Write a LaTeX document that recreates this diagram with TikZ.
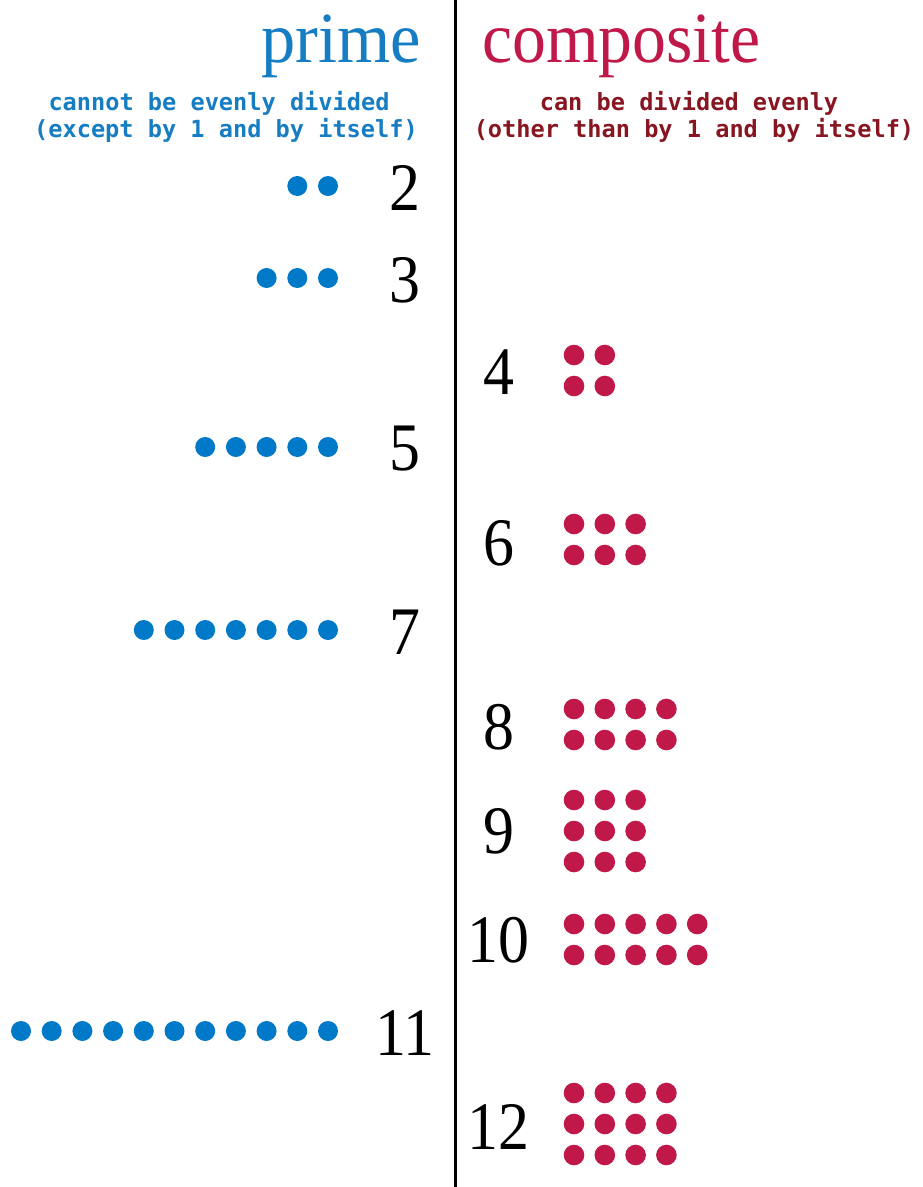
\documentclass[tikz,border=0pt]{standalone}
\usepackage{fontspec}
\usepackage{graphicx}
\setmainfont{Liberation Serif}
\newfontfamily\monofam{DejaVu Sans Mono}
\definecolor{pblue}{RGB}{0,122,200}
\definecolor{tblue}{RGB}{22,125,195}
\definecolor{cred}{RGB}{192,24,72}
\definecolor{tred}{RGB}{135,22,32}
\tikzset{
  num/.style={font=\fontsize{68}{68}\selectfont, inner sep=0pt, anchor=center},
  title/.style={font=\fontsize{72}{72}\selectfont, inner sep=0pt, anchor=base},
  sub/.style={font=\monofam\bfseries\fontsize{23.6}{24}\selectfont, inner sep=0pt, anchor=base},
  bdot/.style={fill=pblue},
  rdot/.style={fill=cred}
}
\begin{document}
\begin{tikzpicture}[x=1pt,y=-1pt]
\useasboundingbox (0,0) rectangle (922,1187);
\fill[white] (0,0) rectangle (922,1187);
\draw[line width=3pt] (455,0) -- (455,1187);
% titles
\node[title, anchor=base east, text=tblue] (tprime) at (421,62) {\scalebox{0.95}[1]{prime}};
\node[title, anchor=base west, text=cred] (tcomp) at (482,62) {\scalebox{0.94}[1]{composite}};
\node[sub, text=tblue] (s1) at (219,110) {cannot be evenly divided};
\node[sub, text=tblue] (s2) at (226,137) {(except by 1 and by itself)};
\node[sub, text=tred] (s3) at (689,110) {can be divided evenly};
\node[sub, text=tred] (s4) at (694,137) {(other than by 1 and by itself)};
% prime numbers
\foreach \n/\y in {2/188, 3/280, 5/449, 7/632, 11/1033}{
  \node[num] (p\n) at (405,\y) {\scalebox{0.91}[1]{\n}};
  \foreach \k in {1,...,\n}{
    \fill[bdot] ({328-30.7*(\k-1)},{\y-2}) circle (10);
  }
}
% composite numbers
\foreach \n/\y in {4/372, 6/543, 8/727, 9/831, 10/940, 12/1127}{
  \node[num] (c\n) at (498.5,\y) {\scalebox{0.91}[1]{\n}};
}
\foreach \c/\r/\y in {2/2/355, 3/2/524, 4/2/709, 3/3/800, 5/2/924, 4/3/1093}{
  \foreach \i in {1,...,\c}{
    \foreach \j in {1,...,\r}{
      \fill[rdot] ({574+30.8*(\i-1)},{\y+31*(\j-1)}) circle (10.3);
    }
  }
}
\end{tikzpicture}
\end{document}
